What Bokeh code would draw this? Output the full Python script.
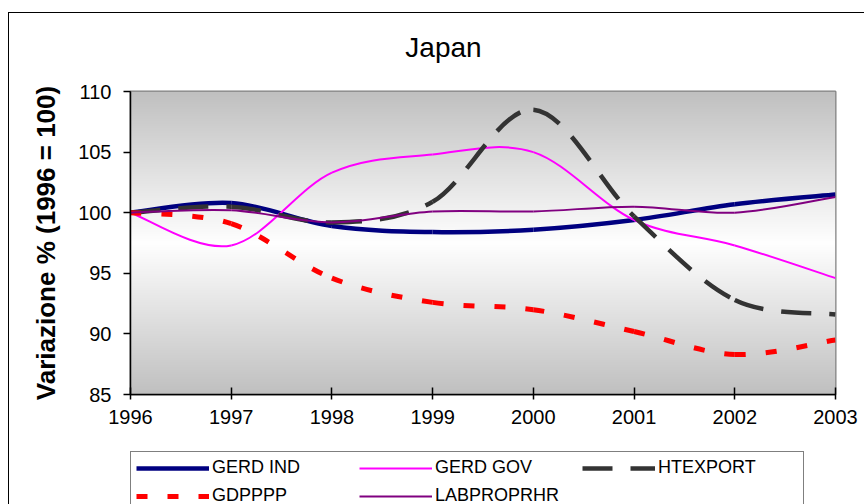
import numpy as np
from bokeh.plotting import figure
from bokeh.layouts import column
from bokeh.models import Range1d, Legend, LegendItem, FixedTicker, Label
from bokeh.embed import file_html
from bokeh.resources import INLINE

# ---- data (index 1996 = 100) ----
years = [1996, 1997, 1998, 1999, 2000, 2001, 2002, 2003]
gerd_ind = [100.0, 100.8, 98.9, 98.4, 98.6, 99.4, 100.7, 101.5]
gerd_gov = [100.0, 97.3, 103.3, 104.8, 105.0, 99.4, 97.3, 94.6]
htexport = [100.0, 100.5, 99.2, 100.9, 108.5, 99.7, 92.8, 91.6]
gdpppp = [100.0, 99.1, 94.6, 92.6, 92.0, 90.2, 88.3, 89.5]
labproprhr = [100.0, 100.2, 99.2, 100.1, 100.1, 100.5, 100.0, 101.3]

series_names = ["GERD IND", "GERD GOV", "HTEXPORT", "GDPPPP", "LABPROPRHR"]
x_ticks = years
y_ticks = [85, 90, 95, 100, 105, 110]
title_text = "Japan"

FONT = "Liberation Sans"


def blank_strip(h):
    f = figure(width=855, height=h, output_backend="svg", toolbar_location=None,
               x_range=Range1d(0, 1), y_range=Range1d(0, 1),
               x_axis_type=None, y_axis_type=None, title=None,
               min_border_left=0, min_border_right=0, min_border_top=0, min_border_bottom=0,
               background_fill_color="white", border_fill_color="white")
    f.outline_line_color = None
    f.grid.visible = False
    return f


# ---- title strip ----
tf = blank_strip(58)
tf.add_layout(Label(x=313, y=24, x_units="screen", y_units="screen", text=title_text,
                    text_align="center", text_baseline="middle",
                    text_font=FONT, text_font_size="28px", text_color="black"))

# ---- main chart ----
p = figure(width=855, height=369, output_backend="svg", toolbar_location=None,
           x_range=Range1d(1996, 2003), y_range=Range1d(85, 110), title=None,
           min_border_left=121, min_border_right=29, min_border_top=20, min_border_bottom=46,
           background_fill_color="white", border_fill_color="white")

# plot-area gradient (gray - white - gray)
N = 303
t = np.linspace(0, 1, N)
g = (255 - (255 - 192) * np.abs(2 * t - 1)).astype(np.uint8)
img = np.zeros((N, 1), dtype=np.uint32)
view = img.view(dtype=np.uint8).reshape((N, 1, 4))
view[:, 0, 0] = g
view[:, 0, 1] = g
view[:, 0, 2] = g
view[:, 0, 3] = 255
p.image_rgba(image=[img], x=1996, y=85, dw=7, dh=25)

p.outline_line_color = "#808080"
p.outline_line_width = 2
p.grid.visible = False

p.xaxis.ticker = FixedTicker(ticks=x_ticks)
p.yaxis.ticker = FixedTicker(ticks=y_ticks)
for ax in (p.xaxis[0], p.yaxis[0]):
    ax.axis_line_color = "black"
    ax.axis_line_width = 1.5
    ax.major_tick_line_color = "black"
    ax.major_tick_line_width = 1.5
    ax.minor_tick_line_color = None
    ax.major_label_text_font = FONT
    ax.major_label_text_font_size = "20px"
    ax.major_label_text_color = "black"
p.xaxis.major_tick_in = 7
p.xaxis.major_tick_out = 5
p.xaxis.major_label_standoff = 10
p.yaxis.major_tick_in = 0
p.yaxis.major_tick_out = 7
p.yaxis.major_label_standoff = 12
p.yaxis.axis_label = "Variazione % (1996 = 100)"
p.yaxis.axis_label_text_font = FONT
p.yaxis.axis_label_text_font_size = "26px"
p.yaxis.axis_label_text_font_style = "bold"
p.yaxis.axis_label_text_color = "black"
p.yaxis.axis_label_standoff = 14


def smooth_segments(xs, ys):
    """Excel-like smoothed line: cubic Bezier control points from neighbours."""
    xs = np.asarray(xs, float)
    ys = np.asarray(ys, float)
    n = len(xs)
    xp = np.concatenate([[xs[0]], xs, [xs[-1]]])
    yp = np.concatenate([[ys[0]], ys, [ys[-1]]])
    d = dict(x0=[], y0=[], x1=[], y1=[], cx0=[], cy0=[], cx1=[], cy1=[])
    for i in range(n - 1):
        j = i + 1  # index in padded arrays
        d["x0"].append(xp[j]); d["y0"].append(yp[j])
        d["x1"].append(xp[j + 1]); d["y1"].append(yp[j + 1])
        d["cx0"].append(xp[j] + (xp[j + 1] - xp[j - 1]) / 6)
        d["cy0"].append(yp[j] + (yp[j + 1] - yp[j - 1]) / 6)
        d["cx1"].append(xp[j + 1] - (xp[j + 2] - xp[j]) / 6)
        d["cy1"].append(yp[j + 1] - (yp[j + 2] - yp[j]) / 6)
    return d


styles = [
    (gerd_ind, dict(line_color="#000080", line_width=4.5)),
    (gerd_gov, dict(line_color="#FF00FF", line_width=2)),
    (htexport, dict(line_color="#333333", line_width=4.5, line_dash="30 18")),
    (gdpppp, dict(line_color="#FF0000", line_width=5, line_dash="11 20")),
    (labproprhr, dict(line_color="#800080", line_width=2)),
]

for name, (vals, st) in zip(series_names, styles):
    p.bezier(**smooth_segments(years, vals), **st)

# ---- legend strip ----
pl = blank_strip(64)
items = []
for name, (vals, st) in zip(series_names, styles):
    r = pl.line(x=np.array([np.nan]), y=np.array([np.nan]), **st)
    items.append(LegendItem(label=name, renderers=[r]))

legend = Legend(items=items, location=(0, -8), orientation="horizontal", ncols=3,
                glyph_width=73, glyph_height=20, label_standoff=3, label_width=140,
                spacing=7, padding=5, margin=0,
                label_text_font=FONT, label_text_font_size="18px", label_text_color="black",
                border_line_color="black", border_line_width=1,
                background_fill_color="white", background_fill_alpha=1)
pl.add_layout(legend, "center")

layout = column(tf, p, pl, spacing=0)
layout.margin = (12, 0, 0, 8)
layout.styles = {"border-top": "1px solid #000000", "border-left": "1px solid #000000"}

open("out.html", "w").write(file_html(layout, INLINE))
